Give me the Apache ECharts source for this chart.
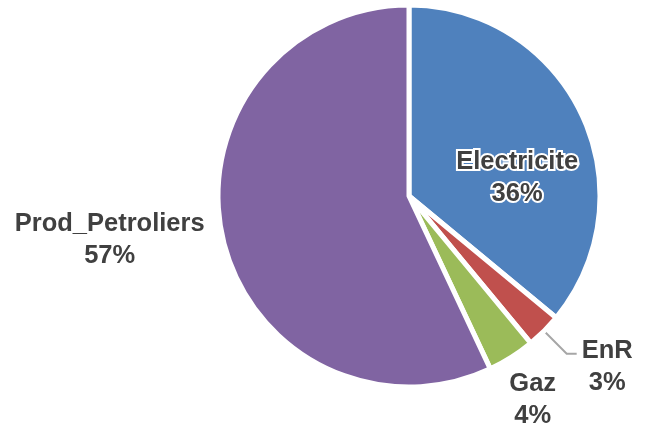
<!DOCTYPE html>
<html>
<head>
<meta charset="utf-8">
<script src="https://cdn.jsdelivr.net/npm/echarts@6/dist/echarts.min.js"></script>
<style>
html,body{margin:0;padding:0;background:#fff;}
#main{width:649px;height:426px;}
</style>
</head>
<body>
<div id="main"></div>
<script>
var names = ['Electricite', 'EnR', 'Gaz', 'Prod_Petroliers'];
var values = [36, 3, 4, 57];
var colors = ['#4F81BD', '#C0504D', '#9BBB59', '#8064A2'];
// petits décalages des étiquettes (dx, dy)
var labelShift = [[19, 24], [0, 0], [-7, 43], [0, 2]];

var chart = echarts.init(document.getElementById('main'));

var txt = {
    align: 'center',
    fontFamily: 'Arial, "Liberation Sans", sans-serif',
    fontSize: 25.5,
    fontWeight: 'bold',
    color: '#404040',
    lineHeight: 32
};

var data = [];
for (var i = 0; i < names.length; i++) {
    var item = {
        name: names[i],
        value: values[i],
        itemStyle: { color: colors[i] }
    };
    if (i == 0) {
        item.label = { position: 'inside', textBorderColor: '#fff', textBorderWidth: 4 };
        item.labelLine = { show: false };
    } else if (i == 1) {
        item.label = { padding: [26, 0, 0, 0] };
        item.labelLine = { show: true, length: 32, length2: 10 };
    } else if (i == 2) {
        item.labelLine = { show: false, length: 0, length2: 0 };
    } else {
        item.labelLine = { show: false, length: 0, length2: 13 };
    }
    data.push(item);
}

var option = {
    animation: false,
    series: [{
        type: 'pie',
        center: [409, 196],
        radius: 191,
        startAngle: 90,
        clockwise: true,
        avoidLabelOverlap: false,
        itemStyle: { borderColor: '#fff', borderWidth: 5 },
        label: {
            show: true,
            position: 'outside',
            alignTo: 'none',
            formatter: '{t|{b}}\n{t|{d}%}',
            rich: { t: txt }
        },
        labelLine: {
            lineStyle: { color: '#A6A6A6', width: 2 }
        },
        labelLayout: function (params) {
            var s = labelShift[params.dataIndex];
            return { dx: s[0], dy: s[1] };
        },
        percentPrecision: 0,
        data: data
    }]
};

chart.setOption(option);
</script>
</body>
</html>
